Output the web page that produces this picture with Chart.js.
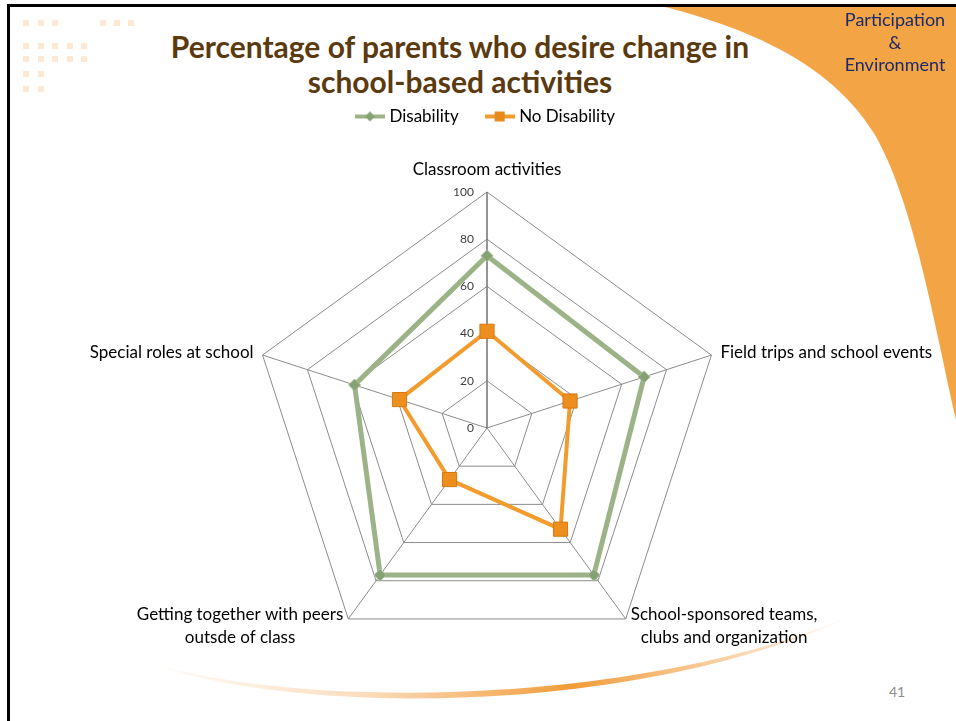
<!DOCTYPE html>
<html>
<head>
<meta charset="utf-8">
<title>Percentage of parents who desire change in school-based activities</title>
<script src="https://cdn.jsdelivr.net/npm/chart.js@4.4.1/dist/chart.umd.min.js"></script>
<style>
html,body{margin:0;padding:0;background:#fff;}
#slide{position:relative;width:956px;height:721px;overflow:hidden;background:#fff;font-family:Lato,"Open Sans",sans-serif;}
#frame{position:absolute;left:7px;top:4px;width:980px;height:740px;border-left:3px solid #000;border-top:3px solid #000;}
#deco{position:absolute;left:0;top:0;}
#title{position:absolute;left:0;top:29px;width:920px;text-align:center;font-size:30px;font-weight:700;line-height:35px;color:#5b3a0f;}
#topic{position:absolute;left:830px;top:8px;width:130px;text-align:center;font-size:18px;line-height:22.5px;color:#1c2a6b;z-index:3;}
#page{position:absolute;left:889px;top:683px;font-size:14px;color:#8c8c8c;}
#chartBox{position:absolute;left:0;top:0;width:956px;height:721px;z-index:2;}
</style>
</head>
<body>
<div id="slide">

    <svg id="deco" width="956" height="721">
        <defs>
            <linearGradient id="swoosh" x1="140" y1="0" x2="860" y2="0" gradientUnits="userSpaceOnUse">
                <stop offset="0" stop-color="#f3a24a" stop-opacity="0"/>
                <stop offset="0.3" stop-color="#f3a24a" stop-opacity="0.35"/>
                <stop offset="0.6" stop-color="#f09c38" stop-opacity="1"/>
                <stop offset="0.85" stop-color="#f3a24a" stop-opacity="0.4"/>
                <stop offset="1" stop-color="#f3a24a" stop-opacity="0"/>
            </linearGradient>
        </defs>
        <path d="M653,4 C740,25 830,60 875,135 C915,205 935,330 956,420 L956,4 Z" fill="#f3a546"/>
        <path d="M140,660 C300,712 650,706 860,612 C650,714 300,720 140,660 Z" fill="url(#swoosh)"/>
        <g fill="#fde8d4">
            <rect x="23" y="20" width="6" height="6"/><rect x="38" y="20" width="6" height="6"/><rect x="52" y="20" width="6" height="6"/>
            <rect x="100" y="20" width="6" height="6"/><rect x="114" y="20" width="6" height="6"/><rect x="128" y="20" width="6" height="6"/>
            <rect x="23" y="43" width="6" height="6"/><rect x="38" y="43" width="6" height="6"/><rect x="52" y="43" width="6" height="6"/><rect x="67" y="43" width="6" height="6"/><rect x="81" y="43" width="6" height="6"/>
            <rect x="23" y="56" width="6" height="6"/><rect x="38" y="56" width="6" height="6"/><rect x="52" y="56" width="6" height="6"/><rect x="67" y="56" width="6" height="6"/><rect x="81" y="56" width="6" height="6"/>
            <rect x="23" y="71" width="6" height="6"/><rect x="38" y="71" width="6" height="6"/>
            <rect x="23" y="86" width="6" height="6"/><rect x="38" y="86" width="6" height="6"/>
        </g>
    </svg>

    <div id="frame"></div>

    <div id="title">Percentage of parents who desire change in<br>school-based activities</div>

    <div id="topic">Participation<br>&amp;<br>Environment</div>

    <div id="page">41</div>

    <div id="chartBox"><canvas id="radarChart"></canvas></div>

</div>

<script>

// ===============================
// DATA
// ===============================

const categories = [
    "Classroom activities",
    "Field trips and school events",
    ["School-sponsored teams,", "clubs and organization"],
    ["Getting together with peers", "outsde of class"],
    "Special roles at school"
];

const seriesNames = ["Disability", "No Disability"];

const disability = [73, 70, 77, 77, 59];

const noDisability = [41, 37, 53, 27, 39];

const tickValues = [0, 20, 40, 60, 80, 100];

const green = "#9bb387";
const orange = "#f39c2e";

// ===============================
// LEGEND SWATCHES (line + marker)
// ===============================

function makeSwatch(color, marker, markerColor){

    const c = document.createElement("canvas");
    c.width = 30;
    c.height = 16;

    const g = c.getContext("2d");

    g.strokeStyle = color;
    g.lineWidth = 4;
    g.beginPath();
    g.moveTo(0, 8);
    g.lineTo(30, 8);
    g.stroke();

    g.fillStyle = markerColor;

    if(marker === "diamond"){
        g.beginPath();
        g.moveTo(15, 3);
        g.lineTo(20, 8);
        g.lineTo(15, 13);
        g.lineTo(10, 8);
        g.closePath();
        g.fill();
    }
    else{
        g.fillRect(10, 3, 10, 10);
    }

    return c;

}

const swatches = [
    makeSwatch(green, "diamond", "#86a173"),
    makeSwatch(orange, "square", "#e8891c")
];

// ===============================
// AXIS TEXT PLUGIN
// ===============================

const axisText = {

    id: "axisText",

    afterDraw(chart){

        const r = chart.scales.r;
        const g = chart.ctx;

        g.save();

        // tick labels, left of the vertical axis
        g.font = "12px Lato";
        g.fillStyle = "#404040";
        g.textAlign = "right";
        g.textBaseline = "middle";

        tickValues.forEach(v => {
            const d = r.getDistanceFromCenterForValue(v);
            g.fillText(String(v), r.xCenter - 13, r.yCenter - d);
        });

        // category labels round the web
        g.font = "17px Lato";
        g.fillStyle = "#000";
        g.textAlign = "center";

        const lineH = 23;

        categories.forEach((lab, i) => {

            const lines = [].concat(lab);
            const p = r.getPointPosition(i, r.drawingArea);
            const a = r.getIndexAngle(i);
            const s = Math.sin(a);
            const c = Math.cos(a);
            const w = Math.max(...lines.map(l => g.measureText(l).width));

            let x, y;

            if(Math.abs(s) < 0.01){
                x = p.x;
                y = p.y - 22 - (lines.length - 1) * lineH;
            }
            else{
                const gap = c > 0 ? 9 : 5;
                x = p.x + Math.sign(s) * (gap + w / 2);
                y = p.y - (c > 0 ? 3 : 4);
            }

            lines.forEach((l, k) => g.fillText(l, x, y + k * lineH));

        });

        g.restore();

    }

};

// ===============================
// CHART
// ===============================

const ctx = document
.getElementById("radarChart")
.getContext("2d");

const chart = new Chart(ctx, {

    type: "radar",

    data: {

        labels: categories,

        datasets: [{

            label: seriesNames[0],
            data: disability,
            borderColor: green,
            backgroundColor: green,
            fill: false,
            borderWidth: 5,
            pointStyle: "rectRot",
            pointRadius: 6,
            pointBackgroundColor: "#86a173",
            pointBorderColor: "#a9bf99",
            pointBorderWidth: 1

        }, {

            label: seriesNames[1],
            data: noDisability,
            borderColor: orange,
            backgroundColor: orange,
            fill: false,
            borderWidth: 4,
            pointStyle: "rect",
            pointRadius: 10,
            pointBackgroundColor: "#ec8f1f",
            pointBorderColor: "#d9780f",
            pointBorderWidth: 1

        }]

    },

    options: {

        responsive: true,
        maintainAspectRatio: false,
        animation: false,
        devicePixelRatio: 1,

        layout: {
            padding: { left: 251, right: 233, top: 78, bottom: 0 }
        },

        elements: {
            line: { tension: 0 }
        },

        plugins: {

            title: { display: false },

            tooltip: { enabled: false },

            legend: {

                display: true,
                position: "top",

                labels: {

                    usePointStyle: true,
                    pointStyleWidth: 22,
                    padding: 30,
                    color: "#000",
                    font: { family: "Lato", size: 17 },

                    generateLabels(chart){
                        return chart.data.datasets.map((ds, i) => ({
                            text: ds.label,
                            pointStyle: swatches[i],
                            fillStyle: ds.borderColor,
                            strokeStyle: ds.borderColor,
                            lineWidth: 0,
                            hidden: false,
                            datasetIndex: i,
                            fontColor: "#000"
                        }));
                    }

                }

            }

        },

        scales: {

            r: {

                min: 0,
                max: 100,

                ticks: {
                    stepSize: 20,
                    display: false
                },

                pointLabels: { display: false },

                grid: {
                    color: "#8c8c8c",
                    lineWidth: 1
                },

                angleLines: {
                    color: c => c.index === 0 ? "#7a7a7a" : "#8c8c8c",
                    lineWidth: c => c.index === 0 ? 1.6 : 1
                }

            }

        }

    },

    plugins: [axisText]

});

</script>
</body>
</html>
